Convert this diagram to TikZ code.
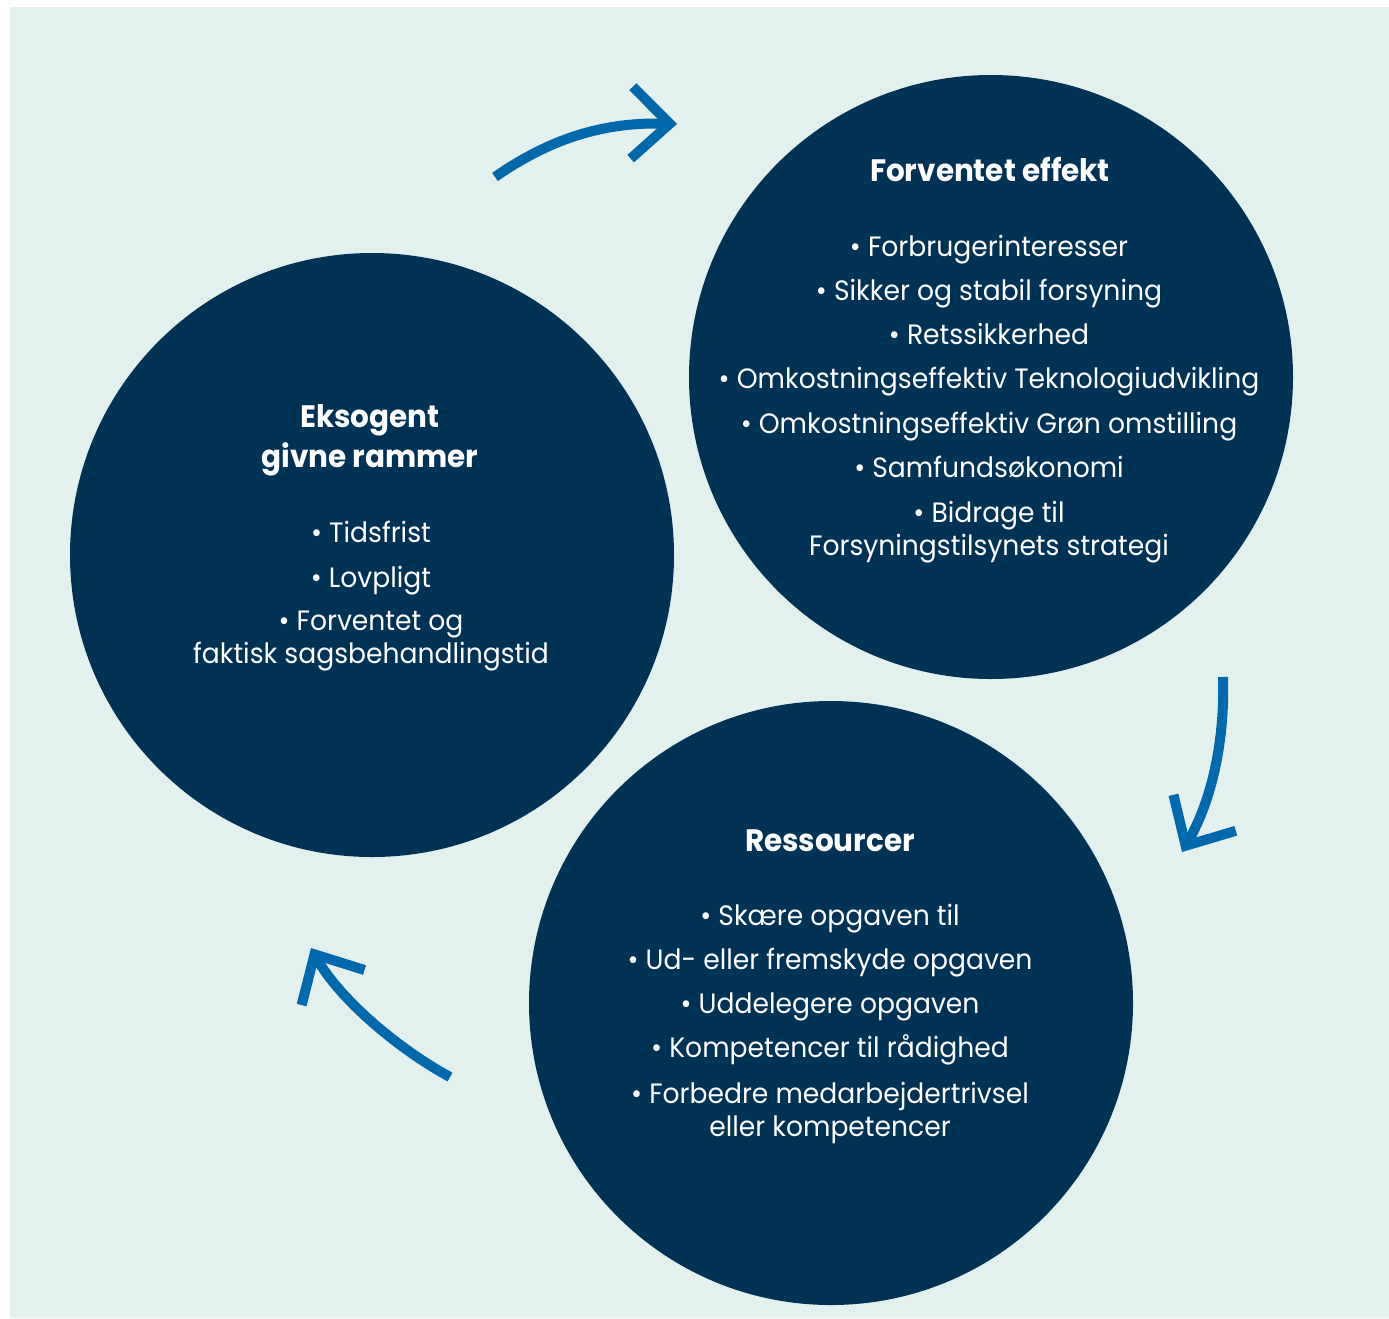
\documentclass[tikz,border=0pt]{standalone}
\usepackage{fontspec}
\setmainfont{Poppins}[FakeStretch=0.95]
\usetikzlibrary{arrows.meta}

\definecolor{mint}{RGB}{227,241,238}
\definecolor{navy}{RGB}{0,50,86}
\definecolor{flowblue}{RGB}{0,104,172}

\tikzset{
  disc/.style={circle, fill=navy, minimum size=604pt, inner sep=0pt},
  headline/.style={text=white, font=\fontsize{31}{40}\selectfont\bfseries, align=center, anchor=base, inner sep=0pt},
  point/.style={text=white, font=\fontsize{28}{33}\selectfont, align=center, anchor=base, inner sep=0pt},
  turnarrow/.style={draw=flowblue, line width=10pt, -{Straight Barb[length=38pt, width=72pt, sharp]}}
}

\begin{document}
\begin{tikzpicture}[x=1pt, y=-1pt]
    % --- Background ---
    \fill[white] (0,0) rectangle (1389,1318);
    \fill[mint] (10,7) rectangle (1389,1318);
    % ---

    % --- Circles ---
    \node[disc] (rammer) at (372,555) {};
    \node[disc] (effekt) at (991,377) {};
    \node[disc] (ressourcer) at (831,1003) {};
    % ---

    % --- Left circle text (base = last line) ---
    \node[headline] (rammer-head) at (370,467) {Eksogent\\givne rammer};
    \node[point] (rammer-1) at (371,542) {• Tidsfrist};
    \node[point] (rammer-2) at (371,587) {• Lovpligt};
    \node[point] (rammer-3) at (371,663) {• Forventet og\\faktisk sagsbehandlingstid};
    % ---

    % --- Top right circle text ---
    \node[headline] (effekt-head) at (990,181) {Forventet effekt};
    \foreach \txt [count=\i] in {• Forbrugerinteresser, • Sikker og stabil forsyning, • Retssikkerhed,
        • Omkostningseffektiv Teknologiudvikling, • Omkostningseffektiv Grøn omstilling,
        • Samfundsøkonomi}
      \node[point] (effekt-\i) at (989,256+44.3*\i-44.3) {\txt};
    \node[point] (effekt-7) at (989,555) {• Bidrage til\\Forsyningstilsynets strategi};
    % ---

    % --- Bottom circle text ---
    \node[headline] (ressourcer-head) at (830,851) {Ressourcer};
    \foreach \txt [count=\i] in {• Skære opgaven til, • Ud- eller fremskyde opgaven, • Uddelegere opgaven,
        • Kompetencer til rådighed}
      \node[point] (ressourcer-\i) at (830,925+44.3*\i-44.3) {\txt};
    \node[point] (ressourcer-5) at (830,1136) {• Forbedre medarbejdertrivsel\\eller kompetencer};
    % ---

    % --- Arrows between circles ---
    \coordinate (a1) at (495,177);
    \coordinate (b1) at (677,124);
    \coordinate (a2) at (1223,677);
    \coordinate (b2) at (1182,852);
    \coordinate (a3) at (450,1077);
    \coordinate (b3) at (311,948);
    \draw[turnarrow] (a1) .. controls (555,135) and (610,122) .. (b1);
    \draw[turnarrow] (a2) .. controls (1225,740) and (1212,800) .. (b2);
    \draw[turnarrow] (a3) .. controls (400,1050) and (340,1000) .. (b3);
    % ---
\end{tikzpicture}
\end{document}
